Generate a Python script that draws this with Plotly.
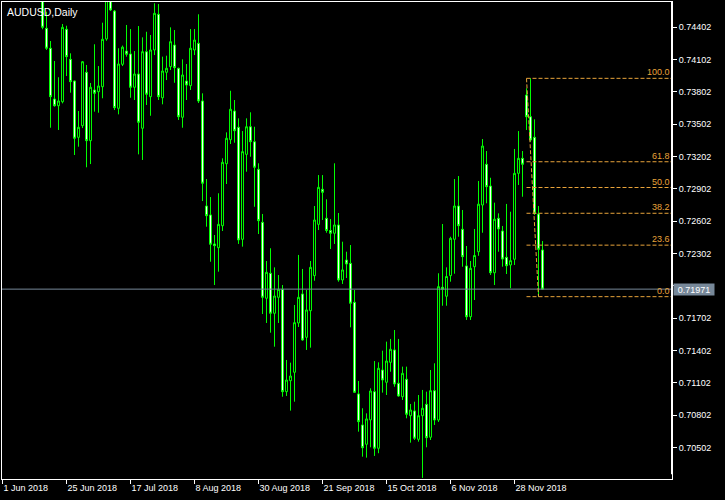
import plotly.graph_objects as go
import pandas as pd

# ---------------- data (AUDUSD daily) ----------------
dates = pd.bdate_range("2018-06-01", periods=136)

opens = [0.7563, 0.7568, 0.7615, 0.7625, 0.7660, 0.7628, 0.7600, 0.7605, 0.7575, 0.7585,
         0.7475, 0.74390, 0.74205, 0.73734, 0.73672, 0.73709, 0.74381, 0.74102, 0.73901, 0.73379,
         0.73487, 0.73982, 0.73348, 0.73818, 0.73802, 0.73848, 0.74291, 0.74670, 0.74550, 0.73648,
         0.74056, 0.74179, 0.74152, 0.73843, 0.73966, 0.73463, 0.74173, 0.73756, 0.74189, 0.74520,
         0.73746, 0.73982, 0.74034, 0.74235, 0.74019, 0.73565, 0.73901, 0.73858, 0.74189, 0.74251,
         0.73716, 0.72742, 0.72659, 0.72390, 0.72355, 0.72559, 0.73134, 0.73357, 0.73623, 0.73472,
         0.72433, 0.73221, 0.73477, 0.73338, 0.73082, 0.72591, 0.71886, 0.72118, 0.71747, 0.71895,
         0.71969, 0.71020, 0.71122, 0.71200, 0.71657, 0.71926, 0.71524, 0.71771, 0.72096, 0.72572,
         0.72897, 0.72628, 0.72515, 0.72489, 0.72566, 0.72056, 0.72241, 0.72210, 0.71849, 0.70999,
         0.70711, 0.70532, 0.70758, 0.71020, 0.70495, 0.71221, 0.71107, 0.71292, 0.71407, 0.71098,
         0.70973, 0.71135, 0.70797, 0.70841, 0.70578, 0.70797, 0.70903, 0.70597, 0.71029, 0.70757,
         0.71988, 0.71905, 0.72096, 0.72433, 0.72742, 0.72526, 0.72186, 0.71715, 0.72179, 0.72318,
         0.72751, 0.73129, 0.72927, 0.72123, 0.72628, 0.72510, 0.72266, 0.72195, 0.72248, 0.73045,
         0.73184, 0.73771, 0.73570, 0.73379, 0.72668, 0.72334]

highs = [0.7585, 0.7625, 0.7640, 0.7675, 0.7677, 0.7630, 0.7622, 0.7610, 0.7615, 0.7640,
         0.7485, 0.74544, 0.74272, 0.74087, 0.73936, 0.74430, 0.74414, 0.74158, 0.73905, 0.73623,
         0.74087, 0.74050, 0.73883, 0.74242, 0.74040, 0.74442, 0.74840, 0.74800, 0.74560, 0.74205,
         0.74230, 0.74421, 0.74383, 0.74179, 0.74411, 0.74306, 0.74358, 0.74328, 0.74622, 0.74615,
         0.74127, 0.74136, 0.74399, 0.74374, 0.74025, 0.74102, 0.74059, 0.74383, 0.74383, 0.74520,
         0.73787, 0.72992, 0.72825, 0.72473, 0.72860, 0.73184, 0.73425, 0.73811, 0.73725, 0.73555,
         0.73437, 0.73555, 0.73611, 0.73477, 0.73138, 0.72668, 0.72232, 0.72350, 0.72173, 0.72102,
         0.72009, 0.71314, 0.71289, 0.71824, 0.72288, 0.72158, 0.71963, 0.72232, 0.72742, 0.73029,
         0.73029, 0.72804, 0.72621, 0.73138, 0.72677, 0.72411, 0.72318, 0.72380, 0.71963, 0.71119,
         0.70866, 0.70819, 0.71051, 0.71304, 0.71292, 0.71400, 0.71484, 0.71509, 0.71592, 0.71509,
         0.71252, 0.71252, 0.70906, 0.70927, 0.70989, 0.71036, 0.71020, 0.71221, 0.71283, 0.72118,
         0.72575, 0.72173, 0.72457, 0.72992, 0.73020, 0.72705, 0.72371, 0.72232, 0.72529, 0.72974,
         0.73363, 0.73252, 0.73004, 0.72773, 0.72674, 0.72557, 0.72761, 0.72689, 0.73271, 0.73437,
         0.73252, 0.73834, 0.73926, 0.73546, 0.72742, 0.72417]

lows = [0.7540, 0.7565, 0.7600, 0.7612, 0.7615, 0.7580, 0.7590, 0.7560, 0.7540, 0.7475,
        0.74381, 0.74189, 0.73468, 0.73663, 0.73447, 0.73694, 0.73948, 0.73793, 0.73215, 0.73292,
        0.73465, 0.73101, 0.73131, 0.73617, 0.73607, 0.73741, 0.74275, 0.74550, 0.73632, 0.73592,
        0.74040, 0.74127, 0.73746, 0.73725, 0.73221, 0.73169, 0.73679, 0.73579, 0.74142, 0.73725,
        0.73685, 0.73910, 0.74003, 0.73885, 0.73540, 0.73468, 0.73725, 0.73818, 0.74142, 0.73697,
        0.72788, 0.72550, 0.72225, 0.72009, 0.72133, 0.72510, 0.72946, 0.73317, 0.73329, 0.72390,
        0.72365, 0.73060, 0.73199, 0.72735, 0.72482, 0.71740, 0.71657, 0.71567, 0.71437, 0.71657,
        0.70973, 0.70980, 0.70844, 0.70927, 0.71620, 0.71493, 0.71407, 0.71428, 0.72049, 0.72519,
        0.72612, 0.72494, 0.72343, 0.72390, 0.72040, 0.72019, 0.72074, 0.71617, 0.71008, 0.70649,
        0.70417, 0.70408, 0.70504, 0.70424, 0.70449, 0.71011, 0.70989, 0.71205, 0.71066, 0.70973,
        0.70943, 0.70773, 0.70547, 0.70572, 0.70556, 0.70220, 0.70504, 0.70572, 0.70711, 0.70739,
        0.71817, 0.71817, 0.72040, 0.72114, 0.72457, 0.72179, 0.71685, 0.71685, 0.71870, 0.72280,
        0.72494, 0.72767, 0.72102, 0.72009, 0.72318, 0.72179, 0.72111, 0.71979, 0.72195, 0.72937,
        0.72828, 0.73447, 0.73338, 0.72659, 0.71901, 0.71971]

closes = [0.7570, 0.7615, 0.7625, 0.7660, 0.7628, 0.7602, 0.7605, 0.7575, 0.7585, 0.7480,
          0.74399, 0.74205, 0.73756, 0.73672, 0.73716, 0.74399, 0.74127, 0.73895, 0.73370, 0.73472,
          0.74080, 0.73348, 0.73843, 0.73787, 0.73855, 0.74288, 0.74680, 0.74560, 0.73654, 0.74059,
          0.74215, 0.74149, 0.73843, 0.73966, 0.73518, 0.74173, 0.73778, 0.74189, 0.74529, 0.73756,
          0.73994, 0.74019, 0.74266, 0.74025, 0.73570, 0.73957, 0.73864, 0.74205, 0.74281, 0.73716,
          0.72953, 0.72652, 0.72387, 0.72374, 0.72572, 0.73147, 0.73370, 0.73639, 0.73440, 0.72427,
          0.73246, 0.73477, 0.73338, 0.73101, 0.72606, 0.71895, 0.72127, 0.71747, 0.71907, 0.71969,
          0.71020, 0.71128, 0.71165, 0.71660, 0.71895, 0.71499, 0.71778, 0.72173, 0.72612, 0.72915,
          0.72869, 0.72515, 0.72489, 0.72566, 0.72056, 0.72149, 0.72204, 0.71840, 0.71014, 0.70742,
          0.70500, 0.70767, 0.71026, 0.70495, 0.71237, 0.71128, 0.71304, 0.71413, 0.71091, 0.70980,
          0.71190, 0.70810, 0.70850, 0.70588, 0.70797, 0.70866, 0.70593, 0.71029, 0.70757, 0.71994,
          0.71969, 0.72088, 0.72442, 0.72742, 0.72559, 0.72272, 0.71715, 0.72164, 0.72283, 0.72759,
          0.73298, 0.72921, 0.72123, 0.72619, 0.72529, 0.72250, 0.72188, 0.72235, 0.73045, 0.73184,
          0.73129, 0.73570, 0.73354, 0.72674, 0.72340, 0.71971]

# x-axis tick labels (every 16 bars)
tick_index = list(range(0, len(dates), 16))
tick_labels = [f"{dates[i].day} {dates[i]:%b %Y}" for i in tick_index]

# price axis ticks (the 0.72002 label sits behind the bid-price box)
price_ticks = [0.70502, 0.70802, 0.71102, 0.71402, 0.71702, 0.72002, 0.72302,
               0.72602, 0.72902, 0.73202, 0.73502, 0.73802, 0.74102, 0.74402]
hidden_price_tick = 0.72002
price_tick_text = ["" if abs(v - hidden_price_tick) < 1e-9 else f"{v:.5f}" for v in price_ticks]

# Fibonacci retracement
fib_start_bar, fib_end_bar = 131, 134
fib_high, fib_low = 0.73926, 0.71901
fib_levels = [0.0, 23.6, 38.2, 50.0, 61.8, 100.0]

# ---------------- figure ----------------
GREEN = "#00FF00"
ORANGE = "#E8A33A"
BID = "#778899"
FONT = "Liberation Sans, Arial, sans-serif"

n = len(opens)
x = list(range(n))
fig = go.Figure()

# bid line
fig.add_trace(go.Scatter(x=[-5, n + 60], y=[closes[-1], closes[-1]], mode="lines",
                         line=dict(color=BID, width=1), hoverinfo="skip"))

fig.add_trace(go.Candlestick(
    x=x, open=opens, high=highs, low=lows, close=closes,
    increasing=dict(line=dict(color=GREEN, width=1), fillcolor="#000000"),
    decreasing=dict(line=dict(color=GREEN, width=1), fillcolor="#FFFFFF"),
    whiskerwidth=0, name="AUDUSD"))

# fib trend line
fig.add_trace(go.Scatter(x=[fib_start_bar, fib_end_bar], y=[fib_high, fib_low], mode="lines",
                         line=dict(color=ORANGE, width=1, dash="4px,2px"), hoverinfo="skip"))

annotations = []
for lv in fib_levels:
    price = fib_low + (fib_high - fib_low) * lv / 100.0
    fig.add_trace(go.Scatter(x=[fib_start_bar, n + 60], y=[price, price], mode="lines",
                             line=dict(color=ORANGE, width=1, dash="4px,2px"), hoverinfo="skip"))
    annotations.append(dict(x=1, xref="paper", y=price, yref="y", xanchor="right", yanchor="bottom",
                            text=f"{lv:.1f}", showarrow=False, xshift=-1, borderpad=0,
                            font=dict(family=FONT, size=9, color=ORANGE)))

annotations.append(dict(x=0, xref="paper", y=1, yref="paper", xanchor="left", yanchor="top",
                        text="AUDUSD,Daily", showarrow=False, xshift=3, yshift=-2,
                        font=dict(family=FONT, size=10.5, color="white")))

annotations.append(dict(x=1, xref="paper", y=closes[-1], yref="y", xanchor="left", yanchor="middle",
                        text=f"{closes[-1]:.5f}", showarrow=False, xshift=1, bgcolor=BID,
                        width=38, height=9, borderpad=1,
                        font=dict(family=FONT, size=9, color="white")))

fig.update_layout(
    template="none",
    width=725, height=500,
    margin=dict(l=2, r=53, t=2, b=21),
    paper_bgcolor="black", plot_bgcolor="black",
    showlegend=False,
    annotations=annotations,
    shapes=[dict(type="line", xref="paper", yref="paper", x0=1, x1=1, y0=0.01, y1=1,
                 line=dict(color="white", width=2), layer="above")],
    xaxis=dict(range=[-0.125, 167.375], tickmode="array", tickvals=tick_index, ticktext=tick_labels,
               ticks="outside", ticklen=4, tickwidth=1, tickcolor="white",
               ticklabelposition="outside right",
               showline=True, linecolor="white", linewidth=1, mirror=True,
               showgrid=False, zeroline=False, automargin=False,
               rangeslider=dict(visible=False),
               tickfont=dict(family=FONT, size=9, color="white")),
    yaxis=dict(range=[0.70210, 0.74634], side="right", tickmode="array", tickvals=price_ticks,
               ticktext=price_tick_text, ticks="outside", ticklen=4, tickwidth=1, tickcolor="white",
               showline=True, linecolor="white", linewidth=1, mirror=True,
               showgrid=False, zeroline=False, automargin=False,
               tickfont=dict(family=FONT, size=9, color="white")),
)

fig.write_html("out.html", config={"displayModeBar": False},
               post_script="document.body.style.margin='0px';document.body.style.background='black';")
